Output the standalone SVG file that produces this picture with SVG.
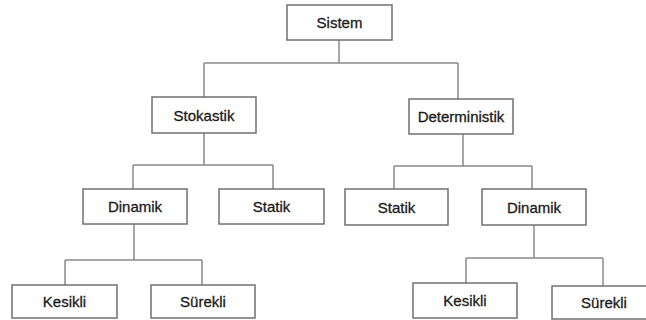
<svg xmlns="http://www.w3.org/2000/svg" width="646" height="320" viewBox="0 0 646 320">
  <style>
    .box { fill: #ffffff; stroke: #707070; stroke-width: 1.5; }
    .lbl { font-family: "Liberation Sans", Arial, sans-serif; font-size: 15px; fill: #1a1a1a; stroke: #1a1a1a; stroke-width: 0.3; text-anchor: middle; }
    .conn path { fill: none; stroke: #8a8a8a; stroke-width: 1.5; }
  </style>
  <rect width="646" height="320" fill="#ffffff"/>
  <g id="connectors" class="conn">
    <path d="M339 40 V63 M204 63 H458 M204 63 V97 M458 63 V99"/>
    <path d="M204 133 V165 M133 165 H273 M133 165 V189 M273 165 V189"/>
    <path d="M463 134 V166 M394 166 H532 M394 166 V189 M532 166 V189"/>
    <path d="M134 224 V260 M65 260 H202 M65 260 V285 M202 260 V285"/>
    <path d="M534 225 V258 M466 258 H603 M466 258 V283 M603 258 V286"/>
  </g>
  <g id="sistem"><rect class="box" x="287" y="5" width="105" height="35"/><text class="lbl" x="339.5" y="28">Sistem</text></g>
  <g id="stokastik"><rect class="box" x="152" y="97" width="104" height="36"/><text class="lbl" x="204" y="120.5">Stokastik</text></g>
  <g id="deterministik"><rect class="box" x="409" y="99" width="104" height="35"/><text class="lbl" x="461" y="122">Deterministik</text></g>
  <g id="dinamik-l"><rect class="box" x="83" y="189" width="104" height="35"/><text class="lbl" x="135" y="212">Dinamik</text></g>
  <g id="statik-l"><rect class="box" x="219" y="189" width="105" height="35"/><text class="lbl" x="271.5" y="212">Statik</text></g>
  <g id="statik-r"><rect class="box" x="345" y="189" width="103" height="36"/><text class="lbl" x="396.5" y="212.5">Statik</text></g>
  <g id="dinamik-r"><rect class="box" x="482" y="189" width="104" height="36"/><text class="lbl" x="534" y="212.5">Dinamik</text></g>
  <g id="kesikli-l"><rect class="box" x="12" y="285" width="105" height="33"/><text class="lbl" x="64.5" y="307">Kesikli</text></g>
  <g id="surekli-l"><rect class="box" x="151" y="285" width="104" height="33"/><text class="lbl" x="203" y="307">Sürekli</text></g>
  <g id="kesikli-r"><rect class="box" x="413" y="283" width="104" height="35"/><text class="lbl" x="465" y="306">Kesikli</text></g>
  <g id="surekli-r"><rect class="box" x="552" y="286" width="104" height="33"/><text class="lbl" x="604" y="308">Sürekli</text></g>
</svg>
